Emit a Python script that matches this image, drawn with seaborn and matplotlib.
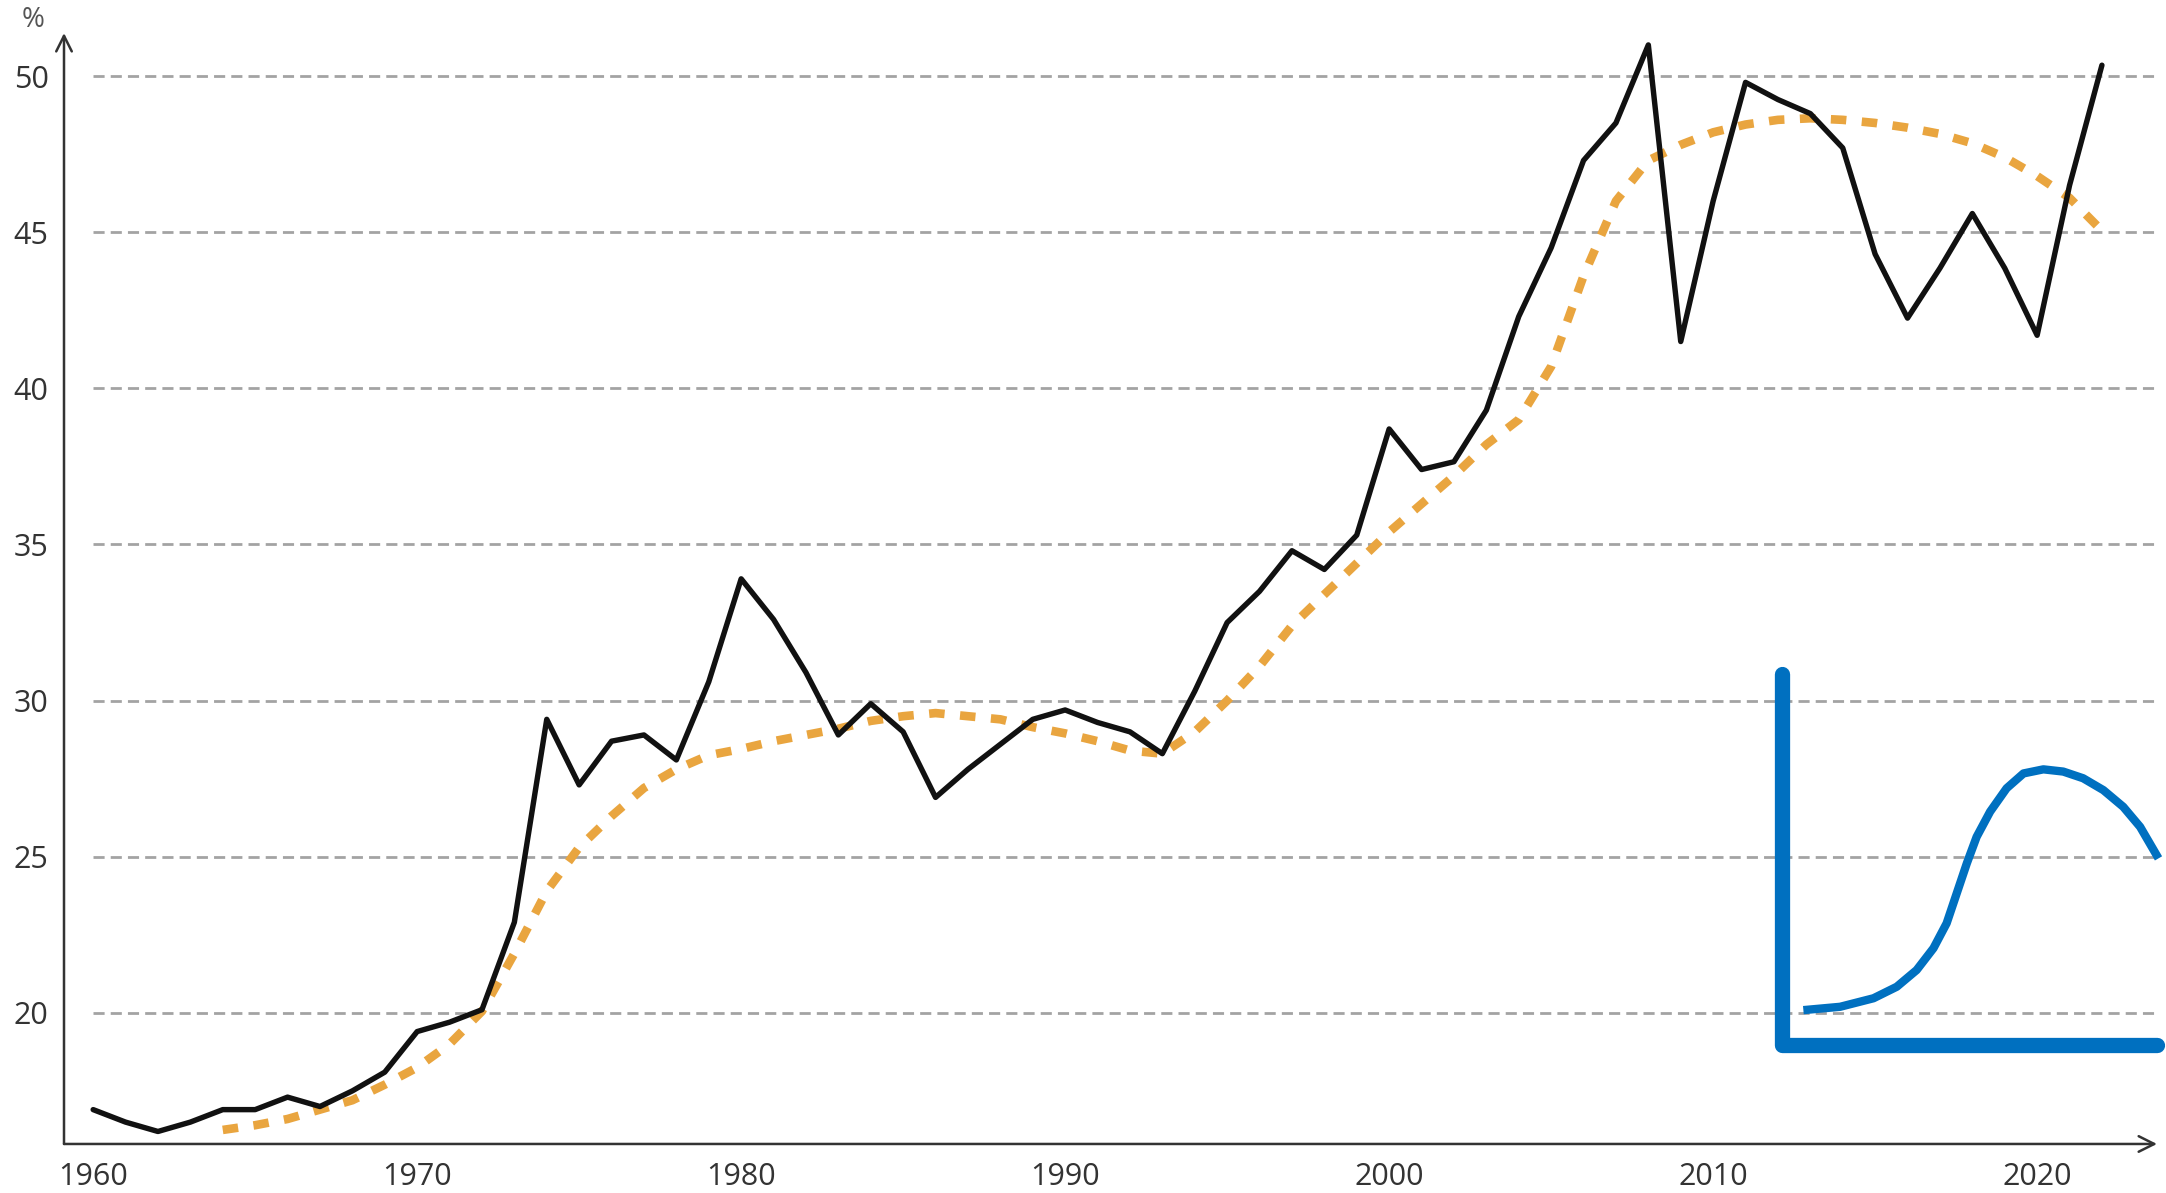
import matplotlib
matplotlib.use("Agg")
import matplotlib.pyplot as plt
import seaborn as sns
import pandas as pd

# ── data ────────────────────────────────────────────────────
years = list(range(1960, 2023))
share = [16.9, 16.5, 16.2, 16.5, 16.9, 16.9, 17.3, 17.0, 17.5, 18.1,
         19.4, 19.7, 20.1, 22.9, 29.4, 27.3, 28.7, 28.9, 28.1, 30.6,
         33.9, 32.6, 30.9, 28.9, 29.9, 29.0, 26.9, 27.8, 28.6, 29.4,
         29.7, 29.3, 29.0, 28.3, 30.3, 32.5, 33.5, 34.8, 34.2, 35.3,
         38.7, 37.4, 37.65, 39.3, 42.3, 44.5, 47.3, 48.5, 51.0, 41.5,
         46.0, 49.8, 49.25, 48.8, 47.7, 44.3, 42.25, 43.85, 45.6, 43.85,
         41.7, 46.5, 50.35]

trend_years = list(range(1964, 2023))
trend = [16.25, 16.4, 16.6, 16.9, 17.2, 17.7,
         18.25, 19.0, 20.05, 21.9, 23.9, 25.3, 26.3, 27.2, 27.8, 28.25,
         28.45, 28.7, 28.9, 29.1, 29.35, 29.5, 29.6, 29.5, 29.4, 29.15,
         28.95, 28.7, 28.4, 28.3, 29.0, 30.0, 31.1, 32.4, 33.4, 34.4,
         35.4, 36.3, 37.2, 38.2, 39.0, 40.7, 43.6, 46.0, 47.3, 47.8,
         48.2, 48.45, 48.6, 48.65, 48.6, 48.5, 48.35, 48.15, 47.85, 47.4,
         46.8, 46.1, 45.05]

x_ticks = [1960, 1970, 1980, 1990, 2000, 2010, 2020]
y_ticks = [20, 25, 30, 35, 40, 45, 50]

# logo in the lower right corner (unit square coordinates)
logo_x = [0.057, 0.155, 0.244, 0.306, 0.359, 0.404, 0.439, 0.466, 0.493,
          0.519, 0.555, 0.599, 0.644, 0.697, 0.750, 0.803, 0.857, 0.910,
          0.955, 1.004]
logo_y = [0.094, 0.103, 0.126, 0.157, 0.202, 0.261, 0.328, 0.409, 0.490,
          0.561, 0.629, 0.692, 0.732, 0.743, 0.737, 0.719, 0.687, 0.642,
          0.588, 0.503]

df = pd.DataFrame({"year": years, "share": share})
df_trend = pd.DataFrame({"year": trend_years, "trend": trend})

# ── style ──────────────────────────────────────────────────
sns.set_theme(style="white")
plt.rcParams['font.family'] = ['Open Sans', 'DejaVu Sans']

fig = plt.figure(figsize=(21.66, 11.93), dpi=100)
ax = fig.add_axes([0.02955, 0.0411, 0.9663, 0.9312])

x_min, x_max = 1959.1, 2023.7
ax.set_xlim(x_min, x_max)
ax.set_ylim(15.8, 51.38)

# dashed horizontal guides, starting at the first year
ax.hlines(y_ticks, 1960, x_max, colors='#a3a3a3', linewidth=2.0,
          linestyles=(0, (4, 2.2)), zorder=1)

sns.lineplot(data=df_trend, x="year", y="trend", ax=ax, color='#E9A53F',
             linewidth=6.2, zorder=2)
ax.lines[-1].set_dashes((1.8, 1.8))
sns.lineplot(data=df, x="year", y="share", ax=ax, color='#111111',
             linewidth=3.9, zorder=3)

for s in ax.spines.values():
    s.set_visible(False)

ax.set_xticks(x_ticks)
ax.set_yticks(y_ticks)
ax.tick_params(axis='both', length=0, labelsize=22, colors='#333333')
ax.tick_params(axis='y', pad=11)
ax.tick_params(axis='x', pad=13)
ax.set_xlabel('')
ax.set_ylabel('')

# arrowed axes
arrow = dict(arrowstyle='->', lw=1.8, color='#333333', mutation_scale=28,
             shrinkA=0, shrinkB=0)
ax.annotate('', xy=(0, 1), xytext=(0, 0), xycoords='axes fraction',
            arrowprops=arrow, annotation_clip=False)
ax.annotate('', xy=(1, 0), xytext=(0, 0), xycoords='axes fraction',
            arrowprops=arrow, annotation_clip=False)
fig.text(33 / 2166, 1 - 20 / 1193, '%', ha='center', va='center',
         fontsize=20, color='#555555')

# blue logo
lx = fig.add_axes([1782 / 2166, 1 - 1045 / 1193, 375 / 2166, 371 / 1193])
lx.set_xlim(0, 1)
lx.set_ylim(0, 1)
lx.axis('off')
lx.plot([0, 0, 1], [1, 0, 0], color='#0070C0', linewidth=11,
        solid_capstyle='round', solid_joinstyle='round', clip_on=False)
lx.plot(logo_x, logo_y, color='#0070C0', linewidth=6,
        solid_capstyle='butt', solid_joinstyle='round', clip_on=False)

plt.savefig('out.png', dpi=100)
